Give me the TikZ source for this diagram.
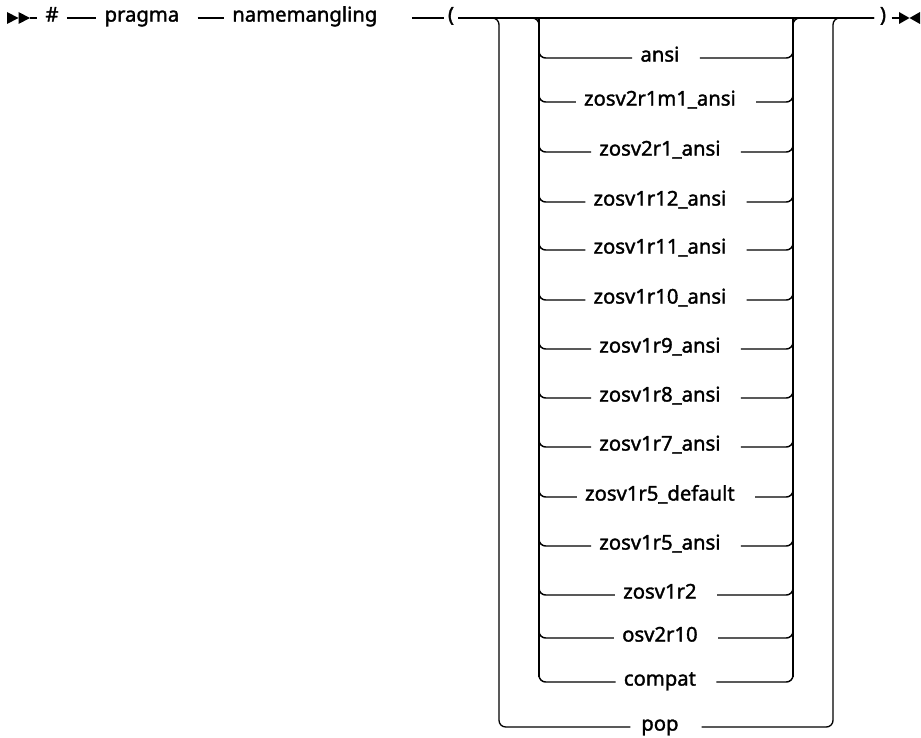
\documentclass[tikz,border=0pt]{standalone}
\usepackage{fontspec}
\setmainfont{Noto Sans}[RawFeature={embolden=1.6}]

\begin{document}
\begin{tikzpicture}[x=0.75pt,y=-0.75pt,font=\fontsize{15.2}{18}\selectfont,
  rail/.style={line width=1.1pt},
  bar/.style={line width=1.6pt},
  outer/.style={line width=1pt},
  kw/.style={inner xsep=6pt,inner ysep=0pt,text height=1ex,text depth=0pt},
  trail/.style={execute at end node={\hspace{#1}}},
  opt/.style={kw,trail=.6em}]
\useasboundingbox (0,0) rectangle (921,738);
% start and end marks
\coordinate (st) at (30,18);
\coordinate (en) at (900,18);
\fill (7,12)--(18.5,18)--(7,24)--cycle;
\fill (18.5,12)--(30,18)--(18.5,24)--cycle;
\fill (899,12)--(909.5,18)--(899,24)--cycle;
\fill (920,12)--(909.5,18)--(920,24)--cycle;
% main line
\node[kw] (hash) at (52,18) {\#};
\node[kw,trail=.5em] (prag) at (147,18) {pragma};
\node[kw,trail=1.3em] (nm) at (318,18) {namemangling};
\node[kw,inner xsep=3pt] (lp) at (451,18) {(};
\node[kw,inner xsep=4pt] (rp) at (883,18) {)};
\draw[rail] (st)--(hash);
\draw[rail] (hash)--(prag);
\draw[rail] (prag)--(nm);
\draw[rail] (nm)--(lp);
\draw[rail] (lp)--(rp);
\draw[rail] (rp)--(en);
% bracket corners
\coordinate (ol) at (499,18);
\coordinate (il) at (539,18);
\coordinate (ir) at (793,18);
\coordinate (or) at (833,18);
% options
\node[opt] (o1) at (666,58) {ansi};
\node[opt] (o2) at (666,102) {zosv2r1m1\_ansi};
\node[opt] (o3) at (666,152) {zosv2r1\_ansi};
\node[opt] (o4) at (666,202) {zosv1r12\_ansi};
\node[opt] (o5) at (666,250) {zosv1r11\_ansi};
\node[opt] (o6) at (666,300) {zosv1r10\_ansi};
\node[opt] (o7) at (666,349) {zosv1r9\_ansi};
\node[opt] (o8) at (666,398) {zosv1r8\_ansi};
\node[opt] (o9) at (666,447) {zosv1r7\_ansi};
\node[opt] (o10) at (666,497) {zosv1r5\_default};
\node[opt] (o11) at (666,546) {zosv1r5\_ansi};
\node[opt] (o12) at (666,595) {zosv1r2};
\node[opt] (o13) at (666,638) {osv2r10};
\node[opt] (o14) at (666,682) {compat};
\node[opt,trail=0pt,inner xsep=8pt] (pop) at (666,727) {pop};
% inner bracket
\draw[rail,rounded corners=5] (ol)--(il) |- (o1.west);
\draw[rail,rounded corners=5] (o1.east) -| (ir)--(or);
\foreach \i in {2,...,14}{
  \draw[rail,rounded corners=5] (il) |- (o\i.west);
  \draw[rail,rounded corners=5] (o\i.east) -| (ir);
}
\draw[bar] (539,23)--(539,677);
\draw[bar] (793,23)--(793,677);
% outer bracket
\draw[outer,rounded corners=5] (lp)--(ol) |- (pop.west);
\draw[outer,rounded corners=5] (pop.east) -| (or)--(rp);
\end{tikzpicture}
\end{document}
